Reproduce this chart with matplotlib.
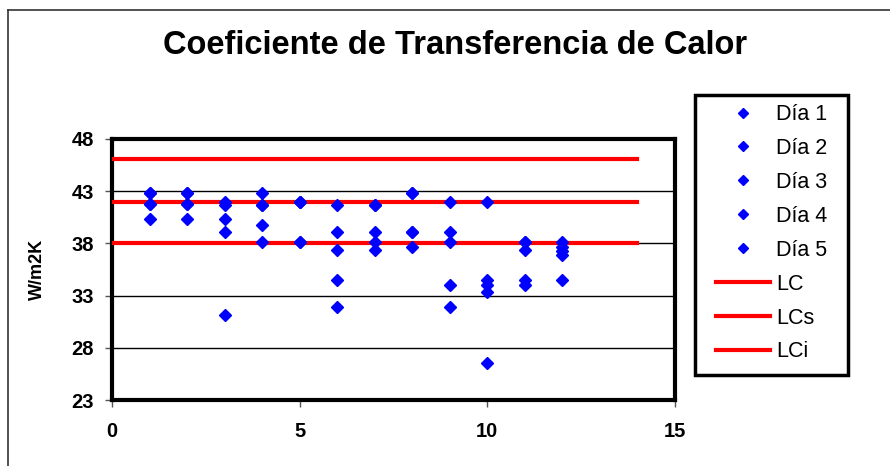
import matplotlib
matplotlib.use("Agg")
import matplotlib.pyplot as plt
from matplotlib.lines import Line2D
from matplotlib.patches import Rectangle

plt.rcParams['font.family'] = ['Liberation Sans', 'DejaVu Sans']

# Data
x_vals = [1, 2, 3, 4, 5, 6, 7, 8, 9, 10, 11, 12]
dia1 = [42.8, 42.8, 42.0, 42.8, 42.0, 41.7, 41.7, 42.8, 42.0, 42.0, 38.1, 38.1]
dia2 = [41.8, 41.8, 41.7, 41.7, 38.1, 39.1, 39.1, 39.1, 39.1, 34.5, 37.4, 37.7]
dia3 = [40.3, 40.3, 40.3, 39.8, 42.0, 37.4, 38.1, 37.7, 38.1, 34.0, 34.5, 37.3]
dia4 = [42.8, 41.8, 39.1, 38.1, 38.1, 34.5, 37.4, 39.1, 34.0, 33.3, 34.0, 36.9]
dia5 = [41.8, 42.8, 31.1, 41.7, 42.0, 31.9, 41.7, 42.8, 31.9, 26.5, 38.1, 34.5]
series = [("Día 1", dia1), ("Día 2", dia2), ("Día 3", dia3),
          ("Día 4", dia4), ("Día 5", dia5)]

limit_x = [0, 14]
LC = 42.0
LCs = 46.1
LCi = 38.0

fig = plt.figure(figsize=(8.9, 4.66), dpi=100)
ax = fig.add_axes([112/890, 1 - 400/466, (675 - 112)/890, (400 - 139)/466])

for name, vals in series:
    ax.plot(x_vals, vals, linestyle='none', marker='D', color='#0000ff',
            markersize=6.5, label=name, zorder=4)

ax.plot(limit_x, [LC, LC], color='#ff0000', linewidth=3, label='LC', zorder=3)
ax.plot(limit_x, [LCs, LCs], color='#ff0000', linewidth=3, label='LCs', zorder=3)
ax.plot(limit_x, [LCi, LCi], color='#ff0000', linewidth=3, label='LCi', zorder=3)

ax.set_xlim(0, 15)
ax.set_ylim(23, 48)
ax.set_xticks([0, 5, 10, 15])
ax.set_yticks([23, 28, 33, 38, 43, 48])
ax.yaxis.grid(True, color='black', linewidth=1)
ax.set_axisbelow(True)
for s in ax.spines.values():
    s.set_linewidth(3)
    s.set_color('black')
ax.tick_params(axis='both', direction='out', length=5, width=1, color='#555555',
               labelsize=14.5)
for lbl in ax.get_xticklabels() + ax.get_yticklabels():
    lbl.set_fontweight('bold')
ax.tick_params(axis='x', pad=11)
ax.tick_params(axis='y', pad=8)

ax.set_ylabel('W/m2K', fontsize=13, fontweight='bold', labelpad=18)

fig.text(455/890, 1 - 45/466, 'Coeficiente de Transferencia de Calor',
         ha='center', va='center', fontsize=23.5, fontweight='bold')

# legend without its own frame; box drawn separately
leg = ax.legend(loc='upper left', bbox_to_anchor=(707/890, 1 - 95/466),
                bbox_transform=fig.transFigure,
                fontsize=15.5, frameon=False, borderaxespad=0,
                handlelength=2.5, handletextpad=0.3, labelspacing=0.6,
                borderpad=0.42, markerscale=0.75)
fig.add_artist(Rectangle((695/890, 1 - 375/466), 153/890, 280/466,
                         transform=fig.transFigure, fill=False,
                         edgecolor='black', linewidth=2.5))

# outer chart border (top and left visible)
fig.add_artist(Line2D([8/890, 8/890], [0, 1 - 10/466], transform=fig.transFigure,
                      color='#333333', linewidth=1.2))
fig.add_artist(Line2D([8/890, 1], [1 - 10/466, 1 - 10/466], transform=fig.transFigure,
                      color='#333333', linewidth=1.2))

fig.savefig('out.png', dpi=100)
